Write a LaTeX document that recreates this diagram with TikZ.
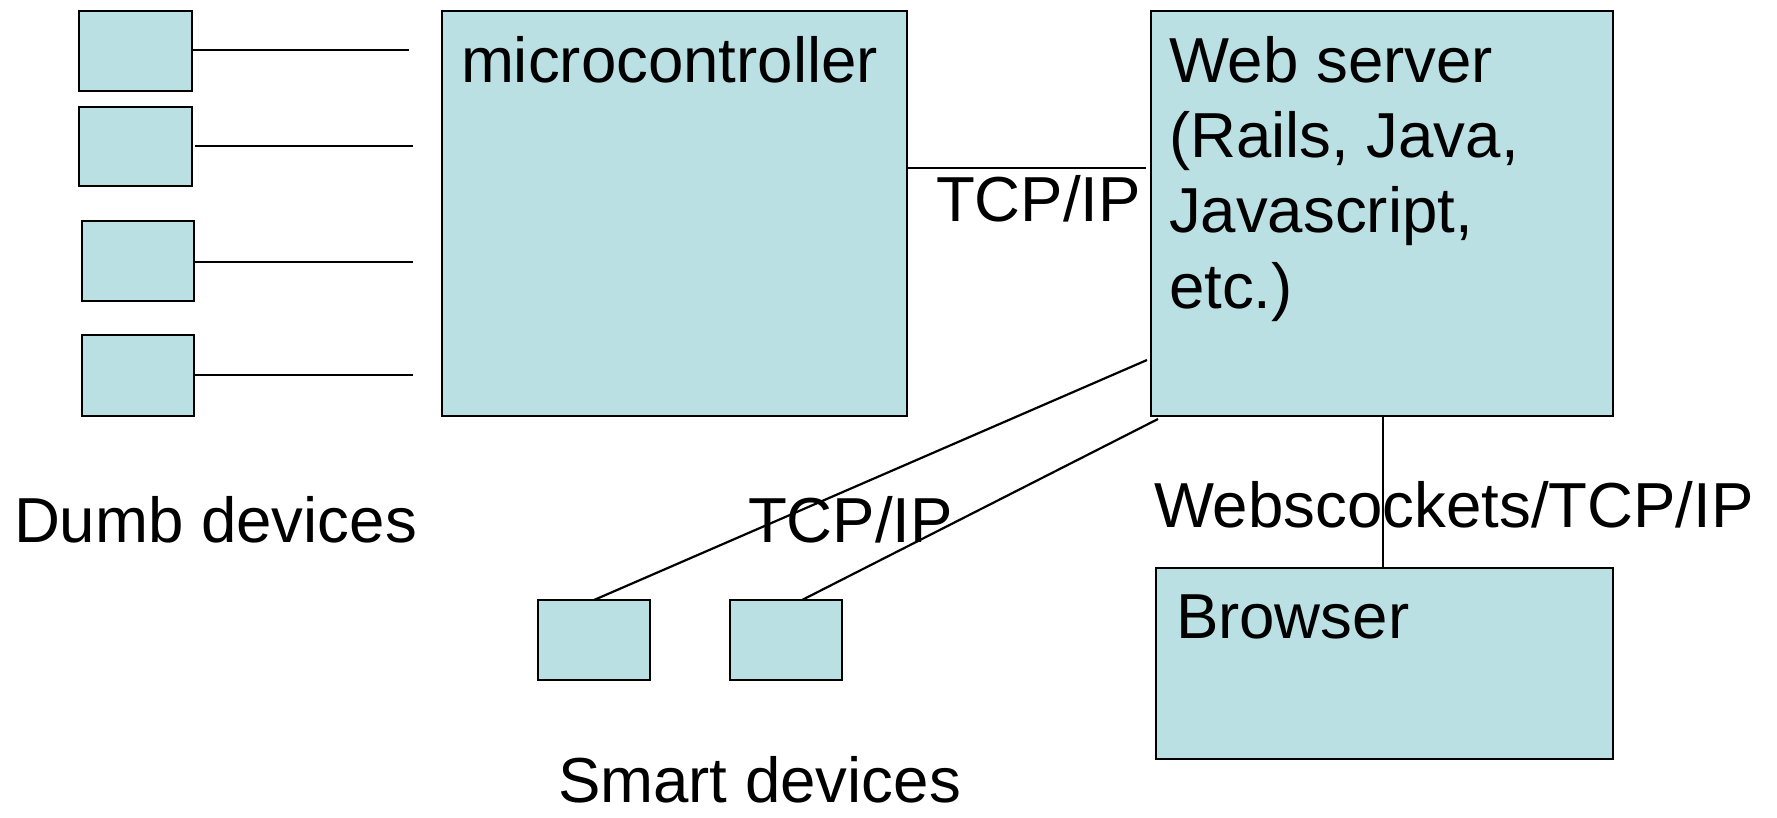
\documentclass[tikz,border=0pt]{standalone}
\usepackage{fontspec}
\setmainfont{Liberation Sans}
\definecolor{boxfill}{RGB}{187,224,227}
\begin{document}
\begin{tikzpicture}[x=1pt,y=-1pt,
  box/.style={draw=black, fill=boxfill, line width=2.4pt, inner sep=0pt, outer sep=0pt, anchor=north west},
  conn/.style={draw=black, line width=2.2pt},
  lbl/.style={inner sep=0pt, outer sep=0pt, anchor=base west, font=\fontsize{63.6}{76}\selectfont}]
\useasboundingbox (0,0) rectangle (1777,817);
% dumb devices
\node[box, minimum width=113pt, minimum height=80pt] (d1) at (79,11) {};
\node[box, minimum width=113pt, minimum height=79pt] (d2) at (79,107) {};
\node[box, minimum width=112pt, minimum height=80pt] (d3) at (82,221) {};
\node[box, minimum width=112pt, minimum height=81pt] (d4) at (82,335) {};
\coordinate (e1) at (409,50);
\coordinate (e2) at (413,146);
\coordinate (e3) at (413,262);
\coordinate (e4) at (413,375);
\draw[conn] (d1.east |- e1) -- (e1);
\draw[conn] ([xshift=3pt]d2.east |- e2) -- (e2);
\draw[conn] (d3.east |- e3) -- (e3);
\draw[conn] (d4.east |- e4) -- (e4);
% microcontroller
\node[box, minimum width=465pt, minimum height=405pt] (mc) at (442,11) {};
\node[lbl] (mct) at (461,82) {microcontroller};
% web server
\node[box, minimum width=462pt, minimum height=405pt] (ws) at (1151,11) {};
\node[lbl] (ws1) at (1169,82) {Web server};
\node[lbl] (ws2) at (1169,157) {(Rails, Java,};
\node[lbl] (ws3) at (1169,232) {Javascript,};
\node[lbl] (ws4) at (1169,308) {etc.)};
\coordinate (tcpend) at (1146,168);
\draw[conn] (mc.east |- tcpend) -- (tcpend);
\node[lbl] (tcp1) at (936,221) {TCP/IP};
% browser
\node[box, minimum width=457pt, minimum height=191pt] (br) at (1156,568) {};
\node[lbl] (brt) at (1176,638) {Browser};
\draw[conn] (ws.south -| 1383,0) -- (br.north -| 1383,0);
\node[lbl] (wsk) at (1154,527) {Webscockets/TCP/IP};
% smart devices
\node[box, minimum width=112pt, minimum height=80pt] (s1) at (538,600) {};
\node[box, minimum width=112pt, minimum height=80pt] (s2) at (730,600) {};
\coordinate (w1) at (1147,360);
\coordinate (w2) at (1158,419);
\draw[conn] (w1) -- (s1.north -| 594,0);
\draw[conn] (w2) -- (s2.north -| 802,0);
\node[lbl] (tcp2) at (748,542) {TCP/IP};
% labels
\node[lbl] (dumb) at (14,542) {Dumb devices};
\node[lbl] (smart) at (558,802) {Smart devices};
\end{tikzpicture}
\end{document}
